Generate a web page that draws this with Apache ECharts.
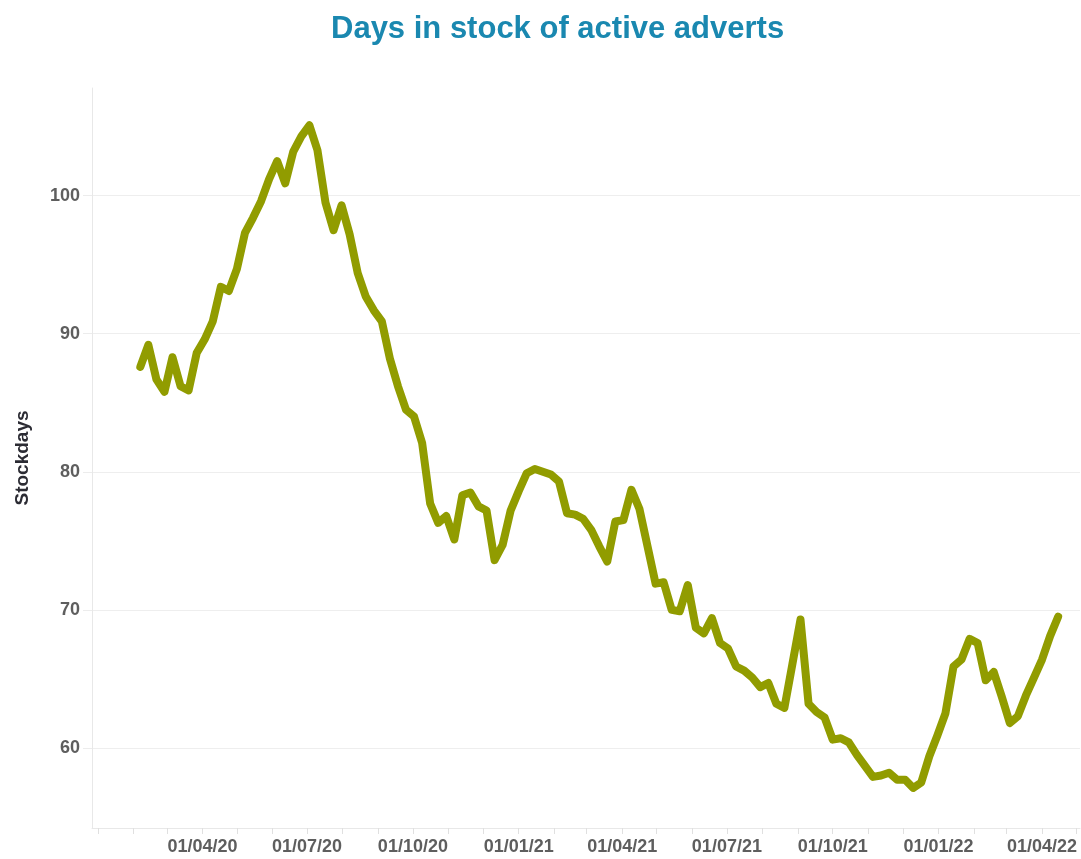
<!DOCTYPE html>
<html>
<head>
<meta charset="UTF-8">
<title>Days in stock of active adverts</title>
<script src="https://cdn.jsdelivr.net/npm/echarts@6/dist/echarts.min.js"></script>
<style>
  html, body { margin: 0; padding: 0; background: #fff; }
  #chart { width: 1081px; height: 859px; }
</style>
</head>
<body>
<div id="chart"></div>
<script type="text/javascript">
// weekly observations
var weeks = [
  '2020-02-07', '2020-02-14', '2020-02-21', '2020-02-28',
  '2020-03-06', '2020-03-13', '2020-03-20', '2020-03-27',
  '2020-04-03', '2020-04-10', '2020-04-17', '2020-04-24',
  '2020-05-01', '2020-05-08', '2020-05-15', '2020-05-22', '2020-05-29',
  '2020-06-05', '2020-06-12', '2020-06-19', '2020-06-26',
  '2020-07-03', '2020-07-10', '2020-07-17', '2020-07-24', '2020-07-31',
  '2020-08-07', '2020-08-14', '2020-08-21', '2020-08-28',
  '2020-09-04', '2020-09-11', '2020-09-18', '2020-09-25',
  '2020-10-02', '2020-10-09', '2020-10-16', '2020-10-23', '2020-10-30',
  '2020-11-06', '2020-11-13', '2020-11-20', '2020-11-27',
  '2020-12-04', '2020-12-11', '2020-12-18', '2020-12-25',
  '2021-01-01', '2021-01-08', '2021-01-15', '2021-01-22', '2021-01-29',
  '2021-02-05', '2021-02-12', '2021-02-19', '2021-02-26',
  '2021-03-05', '2021-03-12', '2021-03-19', '2021-03-26',
  '2021-04-02', '2021-04-09', '2021-04-16', '2021-04-23', '2021-04-30',
  '2021-05-07', '2021-05-14', '2021-05-21', '2021-05-28',
  '2021-06-04', '2021-06-11', '2021-06-18', '2021-06-25',
  '2021-07-02', '2021-07-09', '2021-07-16', '2021-07-23', '2021-07-30',
  '2021-08-06', '2021-08-13', '2021-08-20', '2021-08-27',
  '2021-09-03', '2021-09-10', '2021-09-17', '2021-09-24',
  '2021-10-01', '2021-10-08', '2021-10-15', '2021-10-22', '2021-10-29',
  '2021-11-05', '2021-11-12', '2021-11-19', '2021-11-26',
  '2021-12-03', '2021-12-10', '2021-12-17', '2021-12-24', '2021-12-31',
  '2022-01-07', '2022-01-14', '2022-01-21', '2022-01-28',
  '2022-02-04', '2022-02-11', '2022-02-18', '2022-02-25',
  '2022-03-04', '2022-03-11', '2022-03-18', '2022-03-25',
  '2022-04-01', '2022-04-08', '2022-04-15'
];

var stockdays = [
  87.6, 89.2, 86.7, 85.8,
  88.3, 86.2, 85.9, 88.6,
  89.6, 90.9, 93.4, 93.1,
  94.7, 97.3, 98.4, 99.6, 101.2,
  102.5, 100.9, 103.2, 104.3,
  105.1, 103.3, 99.5, 97.5, 99.3,
  97.2, 94.4, 92.7, 91.7,
  90.9, 88.2, 86.2, 84.5,
  84.0, 82.1, 77.7, 76.3, 76.8,
  75.1, 78.3, 78.5, 77.5,
  77.2, 73.6, 74.7, 77.2,
  78.6, 79.9, 80.2, 80.0, 79.8,
  79.3, 77.0, 76.9, 76.6,
  75.8, 74.6, 73.5, 76.4,
  76.5, 78.7, 77.3, 74.6, 71.9,
  72.0, 70.0, 69.9, 71.8,
  68.7, 68.3, 69.4, 67.6,
  67.2, 65.9, 65.6, 65.1, 64.4,
  64.7, 63.2, 62.9, 66.1,
  69.3, 63.2, 62.6, 62.2,
  60.6, 60.7, 60.4, 59.5, 58.7,
  57.9, 58.0, 58.2, 57.7,
  57.7, 57.1, 57.5, 59.4, 60.9,
  62.5, 65.9, 66.4, 67.9,
  67.6, 64.9, 65.5, 63.7,
  61.8, 62.3, 63.8, 65.1,
  66.4, 68.1, 69.5
];

// x axis: month ticks, quarter labels
var monthTicks = [
  '2020-01-01', '2020-02-01', '2020-03-01', '2020-04-01', '2020-05-01', '2020-06-01',
  '2020-07-01', '2020-08-01', '2020-09-01', '2020-10-01', '2020-11-01', '2020-12-01',
  '2021-01-01', '2021-02-01', '2021-03-01', '2021-04-01', '2021-05-01', '2021-06-01',
  '2021-07-01', '2021-08-01', '2021-09-01', '2021-10-01', '2021-11-01', '2021-12-01',
  '2022-01-01', '2022-02-01', '2022-03-01', '2022-04-01', '2022-05-01'
];
var quarterLabels = [
  '2020-04-01', '2020-07-01', '2020-10-01', '2021-01-01', '2021-04-01',
  '2021-07-01', '2021-10-01', '2022-01-01', '2022-04-01'
];
var yTicks = [60, 70, 80, 90, 100];

var pad = function (n) { return (n < 10 ? '0' : '') + n; };
var toTime = function (s) {
  var p = s.split('-');
  return Date.UTC(+p[0], +p[1] - 1, +p[2]);
};

var chart = echarts.init(document.getElementById('chart'));
var font = "'Liberation Sans', Arial, sans-serif";

var option = {
  backgroundColor: '#ffffff',
  animation: false,
  title: {
    text: 'Days in stock of active adverts',
    left: 326,
    top: 9,
    textStyle: {
      fontFamily: font,
      fontSize: 31,
      fontWeight: 'bold',
      color: '#1a88b0'
    }
  },
  grid: {
    left: 92,
    right: 1,
    top: 88,
    bottom: 31,
    containLabel: false
  },
  xAxis: {
    type: 'value',
    min: toTime('2019-12-27'),
    max: toTime('2022-05-04'),
    axisLine: { show: true, lineStyle: { color: '#e8e8e8', width: 1 } },
    axisTick: {
      show: true,
      length: 6,
      customValues: monthTicks.map(toTime),
      lineStyle: { color: '#e0e0e0' }
    },
    splitLine: { show: false },
    axisLabel: {
      customValues: quarterLabels.map(toTime),
      margin: 10,
      fontFamily: font,
      fontSize: 18,
      fontWeight: 'bold',
      color: '#5e5e5e',
      formatter: function (v) {
        var d = new Date(v);
        return pad(d.getUTCDate()) + '/' + pad(d.getUTCMonth() + 1) + '/' + String(d.getUTCFullYear()).slice(2);
      }
    }
  },
  yAxis: {
    type: 'value',
    min: 54.2,
    max: 107.8,
    name: 'Stockdays',
    nameLocation: 'middle',
    nameGap: 60,
    nameTextStyle: {
      fontFamily: font,
      fontSize: 19,
      fontWeight: 'bold',
      color: '#2b2b33'
    },
    axisLine: { show: true, lineStyle: { color: '#e8e8e8', width: 1 } },
    axisTick: {
      show: true,
      length: 9,
      customValues: yTicks,
      lineStyle: { color: '#ececec' }
    },
    splitLine: { show: true, lineStyle: { color: '#eeeeee', width: 1 } },
    axisLabel: {
      customValues: yTicks,
      margin: 12,
      fontFamily: font,
      fontSize: 18,
      fontWeight: 'bold',
      color: '#5e5e5e'
    }
  },
  series: [{
    type: 'line',
    data: weeks.map(function (w, i) { return [toTime(w), stockdays[i]]; }),
    showSymbol: false,
    symbol: 'none',
    lineStyle: {
      color: '#919c00',
      width: 8,
      join: 'round',
      cap: 'round'
    }
  }]
};

chart.setOption(option);
</script>
</body>
</html>
